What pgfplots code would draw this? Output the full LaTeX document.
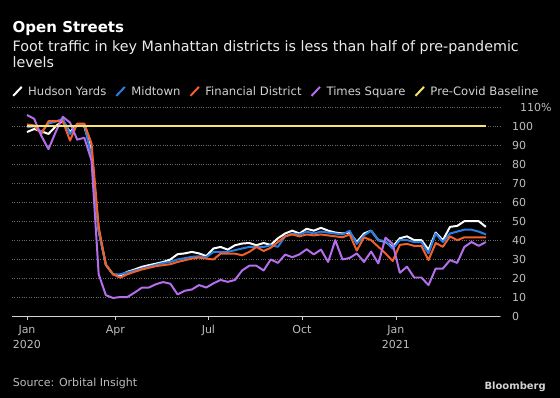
\documentclass[border=0pt]{standalone}
\usepackage{pgfplots}
\pgfplotsset{compat=1.18}
\usepackage{pgfplotstable}
\usepackage{fontspec}
\setmainfont{DejaVu Sans}
\definecolor{cblue}{HTML}{2A7DE1}
\definecolor{corange}{HTML}{F2602A}
\definecolor{cpurple}{HTML}{B46EEC}
\definecolor{cyellow}{HTML}{F7E46E}
\definecolor{tgrey}{HTML}{BDBDBD}
\definecolor{lgrey}{HTML}{D2D2D2}
\definecolor{dgrid}{HTML}{6A6A6A}
\pgfplotstableread{
w H M F T
0 97 99.5 101 106
1 98.6 100 100.5 104
2 97.4 97 96 95
3 96 101.5 102.7 88
4 100 102.5 102.7 97
5 103 104 102.7 105
6 97 96 92.5 102
7 101 101 101.4 93
8 100 101 101.4 94
9 87 84 91 82
10 45 45 47 22
11 27 27 27 11
12 22 22 22 9.5
13 21.3 22 20.2 10
14 23.3 23 22 10
15 24.5 24 23.3 12.3
16 25.9 25 24.5 14.9
17 26.8 26 25.4 15
18 27.6 27 26.3 16.8
19 28.5 28 26.8 17.9
20 29.8 28.5 27.3 17
21 32.6 29.8 28.5 11.4
22 33 30.5 29.4 13.3
23 33.8 31.2 30.3 14
24 33 31.5 30.8 16.3
25 31.6 31 30.3 15
26 35.6 33.8 29.8 17.2
27 36.4 33.8 32.9 19
28 35 33.8 32.9 18
29 37.3 34.7 32.9 19
30 38.2 35.6 32 24
31 38.5 36.4 33.8 26.5
32 37.3 36.4 36.4 26.5
33 38.5 36.4 34.3 24
34 37.5 37.3 36 29.8
35 41 36.5 39 28
36 43.5 42 42 32.4
37 45 43.5 43 31
38 43.5 43 42 32.5
39 46 44.5 43 35.2
40 45 43.5 42.5 32.5
41 46.5 44.5 43 35
42 45 44 42.5 28.5
43 44 43.5 42 40
44 43.5 43 41.5 29.8
45 44 45 43 30.6
46 39 38 34.5 33
47 43.5 42.5 41.5 28.5
48 45 45 40 34
49 40 40 36.5 27.7
50 39 39.5 33 41.3
51 36.5 35.5 29 38
52 41 40 37.5 22.8
53 42 40 38 26
54 40 39 37 20.3
55 40 39 37 20.3
56 35 33 29.5 16.3
57 44 43.5 38.5 25
58 40 39 36.5 25
59 47 43.5 42 29.5
60 47.5 44.5 40 28
61 50 45.5 41.5 36.4
62 50 45.5 41.5 39
63 50 44.5 41.5 37
64 47 43 41.5 39
}\datatable
\pgfplotstableread{
w B
0 100
64 100
}\basetable
\begin{document}
\begin{tikzpicture}
\fill[black] (0,0) rectangle (560bp,398bp);
\node[anchor=base west, inner sep=0, text=white, font=\fontsize{15bp}{17bp}\selectfont\bfseries] at (12.5bp,{398bp-32.7bp}) {Open Streets};
\node[anchor=base west, inner sep=0, text=white!92!black, font=\fontsize{14.3bp}{16bp}\selectfont] at (12.5bp,{398bp-52bp}) {Foot traffic in key Manhattan districts is less than half of pre-pandemic};
\node[anchor=base west, inner sep=0, text=white!92!black, font=\fontsize{14.3bp}{16bp}\selectfont] at (12.5bp,{398bp-68bp}) {levels};
\node[anchor=base west, inner sep=0, text=tgrey, font=\fontsize{11bp}{13bp}\selectfont] at (12.7bp,{398bp-386bp}) {Source: Orbital Insight};
\node[anchor=base east, inner sep=0, text=lgrey, font=\fontsize{10bp}{12bp}\selectfont\bfseries] at (546bp,{398bp-389bp}) {Bloomberg};
\begin{axis}[
  at={(12bp,82bp)}, anchor=south west,
  scale only axis, width=488bp, height=208.6bp,
  xmin=-2.09, xmax=65.97, ymin=0, ymax=110,
  axis x line*=bottom, axis y line*=right,
  x axis line style={-, draw=lgrey, line width=0.8pt},
  y axis line style={draw=none},
  ytick={0,10,...,110},
  yticklabels={0,10,20,30,40,50,60,70,80,90,100,\hspace*{8bp}110\%},
  yticklabel pos=right,
  ytick style={draw=none},
  xtick={0,12.34,25.3,38.35,51.46},
  xticklabels={{Jan\\2020},Apr,Jul,Oct,{Jan\\2021}},
  tick align=outside, major tick length=4bp,
  xtick style={draw=lgrey, line width=0.8pt},
  xticklabel style={align=center, anchor=north, text=tgrey, font=\fontsize{11bp}{15bp}\selectfont, inner sep=0pt, yshift=-5bp},
  yticklabel style={anchor=west, text=tgrey, font=\fontsize{11bp}{13bp}\selectfont, inner sep=0pt, xshift=8bp},
  /pgf/number format/assume math mode=true,
  ymajorgrids, grid style={dgrid, dotted, line width=0.6pt},
  clip=false,
  legend columns=-1,
  legend style={at={(axis description cs:0,1.112)}, anchor=north west, draw=none, fill=none, inner sep=0pt, text=lgrey, font=\fontsize{11.6bp}{14bp}\selectfont, /tikz/every odd column/.append style={column sep=3.5bp}, /tikz/every even column/.append style={column sep=7bp}},
  legend image code/.code={\draw[#1, line width=2pt] (0bp,-4.5bp) -- (8.5bp,4.5bp);},
]
\addplot[white, no marks, line width=2pt, line join=round] table[x=w, y=H] {\datatable};
\addlegendentry{Hudson Yards}
\addplot[cblue, no marks, line width=2pt, line join=round] table[x=w, y=M] {\datatable};
\addlegendentry{Midtown}
\addplot[corange, no marks, line width=2pt, line join=round] table[x=w, y=F] {\datatable};
\addlegendentry{Financial District}
\addplot[cpurple, no marks, line width=2pt, line join=round] table[x=w, y=T] {\datatable};
\addlegendentry{Times Square}
\addplot[cyellow, no marks, line width=2.2pt] table[x=w, y=B] {\basetable};
\addlegendentry{Pre-Covid Baseline}
\end{axis}
\pgfresetboundingbox
\useasboundingbox (0,0) rectangle (560bp,398bp);
\end{tikzpicture}
\end{document}
